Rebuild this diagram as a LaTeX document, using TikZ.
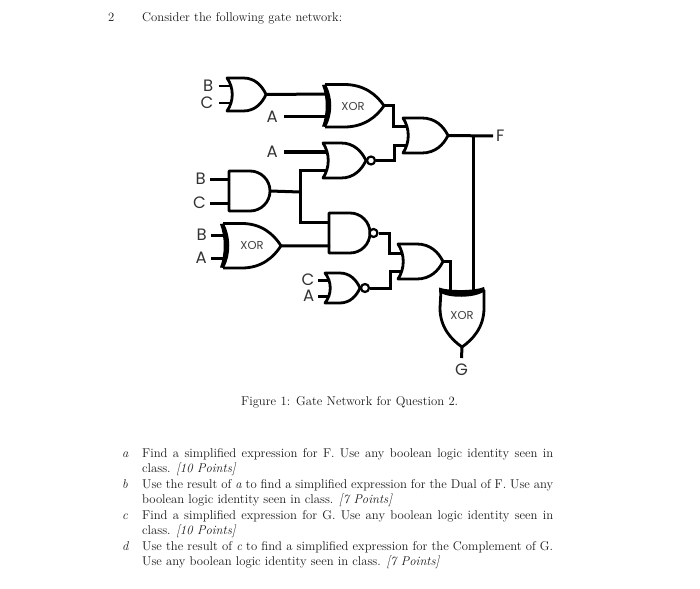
\documentclass[tikz,border=0pt]{standalone}
\usepackage{fontspec}
\newfontfamily\gatefont{Poppins}
\newcommand{\orgate}[5]{% name, x, top, bot, tip
  \pgfmathsetmacro{\mymid}{(#3+#4)/2}\pgfmathsetmacro{\myw}{#5-#2}\pgfmathsetmacro{\myh}{#4-#3}
  \draw[gate] (#2,#3) -- ({#2+.42*\myw},#3) .. controls ({#2+.72*\myw},#3) and ({#2+.9*\myw},{#3+.24*\myh}) .. (#5,\mymid)
    .. controls ({#2+.9*\myw},{#4-.24*\myh}) and ({#2+.72*\myw},#4) .. ({#2+.42*\myw},#4) -- (#2,#4)
    .. controls ({#2+7},{#4-.3*\myh}) and ({#2+7},{#3+.3*\myh}) .. cycle;
  \coordinate (#1-out) at (#5,\mymid);}
\newcommand{\andgate}[5]{% name, x, top, bot, tip
  \pgfmathsetmacro{\mymid}{(#3+#4)/2}\pgfmathsetmacro{\myw}{#5-#2}\pgfmathsetmacro{\myh}{#4-#3}
  \draw[gate] (#2,#3) -- ({#5-.5*\myh},#3) arc[start angle=90,end angle=-90,radius=.5*\myh*1pt] -- (#2,#4) -- cycle;
  \coordinate (#1-out) at (#5,\mymid);}
\newcommand{\xorgate}[5]{% name, x, top, bot, tip
  \pgfmathsetmacro{\mymid}{(#3+#4)/2}\pgfmathsetmacro{\myw}{#5-#2}\pgfmathsetmacro{\myh}{#4-#3}
  \draw[gate] ({#2+3},#3) -- ({#2+.36*\myw},#3) .. controls ({#2+.68*\myw},#3) and ({#2+.88*\myw},{#3+.24*\myh}) .. (#5,\mymid)
    .. controls ({#2+.88*\myw},{#4-.24*\myh}) and ({#2+.68*\myw},#4) .. ({#2+.36*\myw},#4) -- ({#2+3},#4);
  \fill[black] (#2,{#3+.5}) .. controls ({#2+5},{#3+.3*\myh}) and ({#2+5},{#4-.3*\myh}) .. (#2,{#4-.5})
    -- ({#2+4},#4) .. controls ({#2+11},{#4-.3*\myh}) and ({#2+11},{#3+.3*\myh}) .. ({#2+4},#3) -- cycle;
  \coordinate (#1-out) at (#5,\mymid);}
\begin{document}
\begin{tikzpicture}[x=1pt,y=-1pt,
  gate/.style={line width=2.8pt,line join=round,fill=white},
  wire/.style={line width=3pt,line join=miter},
  bubble/.style={circle,draw,line width=2.2pt,fill=white,minimum size=8pt,inner sep=0pt},
  pin/.style={font=\gatefont\fontsize{16.5}{17}\selectfont,text=black!80,inner sep=4pt},
  xorlab/.style={font=\gatefont\fontsize{11.5}{12}\selectfont,text=black!75,inner sep=0pt},
  body/.style={font=\fontsize{12.7}{14}\selectfont,text=black!90,inner sep=0pt,anchor=base west}]
\useasboundingbox (0,0) rectangle (700,588);
\coordinate (or1-a) at (230,86); \coordinate (or1-b) at (230,103);
\coordinate (x1-a) at (327,94); \coordinate (x1-b) at (327,117);
\coordinate (n1-a) at (327,152); \coordinate (n1-b) at (327,170);
\coordinate (and1-a) at (230,179); \coordinate (and1-b) at (230,203);
\coordinate (x2-a) at (226,235); \coordinate (x2-b) at (226,258);
\coordinate (n2-a) at (330,222); \coordinate (n2-b) at (330,246);
\coordinate (n3-a) at (328,280); \coordinate (n3-b) at (328,296);
\coordinate (or3-a) at (406,127); \coordinate (or3-b) at (406,146);
\coordinate (or2-a) at (402,253); \coordinate (or2-b) at (402,271);
\coordinate (xg-a) at (450,292); \coordinate (xg-b) at (473,292);
\coordinate (jog1) at (393,116); \coordinate (jog2) at (394,153);
\coordinate (jog3) at (389,242); \coordinate (jog4) at (390,279);
\coordinate (jF) at (473,136);
\coordinate (jA) at (300,192);
% gates
\orgate{or1}{227}{78}{111}{266}
\andgate{and1}{229}{171}{211}{270}
\xorgate{x1}{322}{84.5}{127}{384}
\orgate{n1}{323}{143}{178}{366}
\orgate{or3}{403}{118}{153}{448}
\xorgate{x2}{220}{223.5}{268}{281}
\andgate{n2}{329}{213}{253}{370}
\orgate{n3}{325}{273}{303}{360}
\orgate{or2}{398}{244}{279}{443}
% vertical XOR
\draw[gate] (441,290) -- (440,308) .. controls (440,328) and (452,340) .. (462,347)
  .. controls (472,340) and (484,328) .. (484,308) -- (484,290);
\fill[black] (439,287.5) .. controls (448,291) and (475,291) .. (484,287)
  -- (485,291) .. controls (475,298.5) and (448,298.5) .. (439,292) -- cycle;
\coordinate (xg-out) at (462,347);
\node[bubble] (b1) at (371,160.5) {};
\node[bubble] (b2) at (373.5,233) {};
\node[bubble] (b3) at (365,288) {};
% labels
\node[pin,anchor=east,inner sep=5.5pt] (lB1) at (219,86) {B};
\node[pin,anchor=east,inner sep=5.5pt] (lC1) at (219,103) {C};
\node[pin,anchor=east,inner sep=6pt] (lA1) at (284,117) {A};
\node[pin,anchor=east,inner sep=6pt] (lA2) at (284,152) {A};
\node[pin,anchor=east] (lB2) at (210,179) {B};
\node[pin,anchor=east] (lC2) at (210,203) {C};
\node[pin,anchor=east] (lB3) at (211,235) {B};
\node[pin,anchor=east] (lA3) at (211,258) {A};
\node[pin,anchor=east,inner sep=3.5pt] (lC3) at (318,280) {C};
\node[pin,anchor=east,inner sep=3.5pt] (lA4) at (318,296) {A};
\node[pin,anchor=west,inner sep=3pt] (lF) at (493,136) {F};
\node[pin,anchor=north,inner sep=6pt] (lG) at (461.5,358) {G};
\node[xorlab] (tx1) at (353,106.5) {XOR};
\node[xorlab] (tx2) at (252,245) {XOR};
\node[xorlab] (tx3) at (462,315) {XOR};
% connectors
\draw[line width=2.6pt] (lB1.east) -- (or1-a);
\draw[line width=2.6pt] (lC1.east) -- (or1-b);
\draw[wire] (or1-out) -- (x1-a);
\draw[wire] (lA1.east) -- (x1-b);
\draw[wire] (lA2.east) -- (n1-a);
\draw[wire] (lB2.east) -- (and1-a);
\draw[wire] (lC2.east) -- (and1-b);
\draw[wire] (lB3.east) -- (x2-a);
\draw[wire] (lA3.east) -- (x2-b);
\draw[wire] (lC3.east) -- (n3-a);
\draw[wire] (lA4.east) -- (n3-b);
\draw[wire] (n1-b) -| (jA) |- (n2-a);
\draw[wire] (and1-out) -- (jA);
\draw[wire] (x2-out) -- (n2-b);
\draw[wire] (x1-out) -| (jog1) |- (or3-a);
\draw[wire] (b1.east) -| (jog2) |- (or3-b);
\draw[wire] (b2.east) -| (jog3) |- (or2-a);
\draw[wire] (b3.east) -| (jog4) |- (or2-b);
\draw[wire] (or2-out) -| (xg-a);
\draw[wire] (or3-out) -- (lF.west);
\draw[wire] (jF) -- (xg-b);
\draw[wire] (xg-out) -- (lG.north);
% text
\node[body] (t0) at (108,21.5) {2};
\node[body] (t1) at (142,21.5) {\makebox[200pt][s]{Consider the following gate network:}};
\node[body] (cap) at (241,405.5) {\makebox[217pt][s]{Figure 1: Gate Network for Question 2.}};
\node[body] (la) at (122,457) {\itshape a};
\node[body] (a1) at (142,457) {\makebox[411pt][s]{Find a simplified expression for F. Use any boolean logic identity seen in}};
\node[body] (a2) at (142,472) {class. \textit{[10 Points]}};
\node[body] (lb) at (122,488) {\itshape b};
\node[body] (b1t) at (142,488) {\makebox[411pt][s]{Use the result of \textit{a} to find a simplified expression for the Dual of F. Use any}};
\node[body] (b2t) at (142,503) {boolean logic identity seen in class. \textit{[7 Points]}};
\node[body] (lc) at (122,519) {\itshape c};
\node[body] (c1) at (142,519) {\makebox[411pt][s]{Find a simplified expression for G. Use any boolean logic identity seen in}};
\node[body] (c2) at (142,534) {class. \textit{[10 Points]}};
\node[body] (ld) at (122,550) {\itshape d};
\node[body] (d1) at (142,550) {\makebox[411pt][s]{Use the result of \textit{c} to find a simplified expression for the Complement of G.}};
\node[body] (d2) at (142,565) {Use any boolean logic identity seen in class. \textit{[7 Points]}};
\end{tikzpicture}
\end{document}
